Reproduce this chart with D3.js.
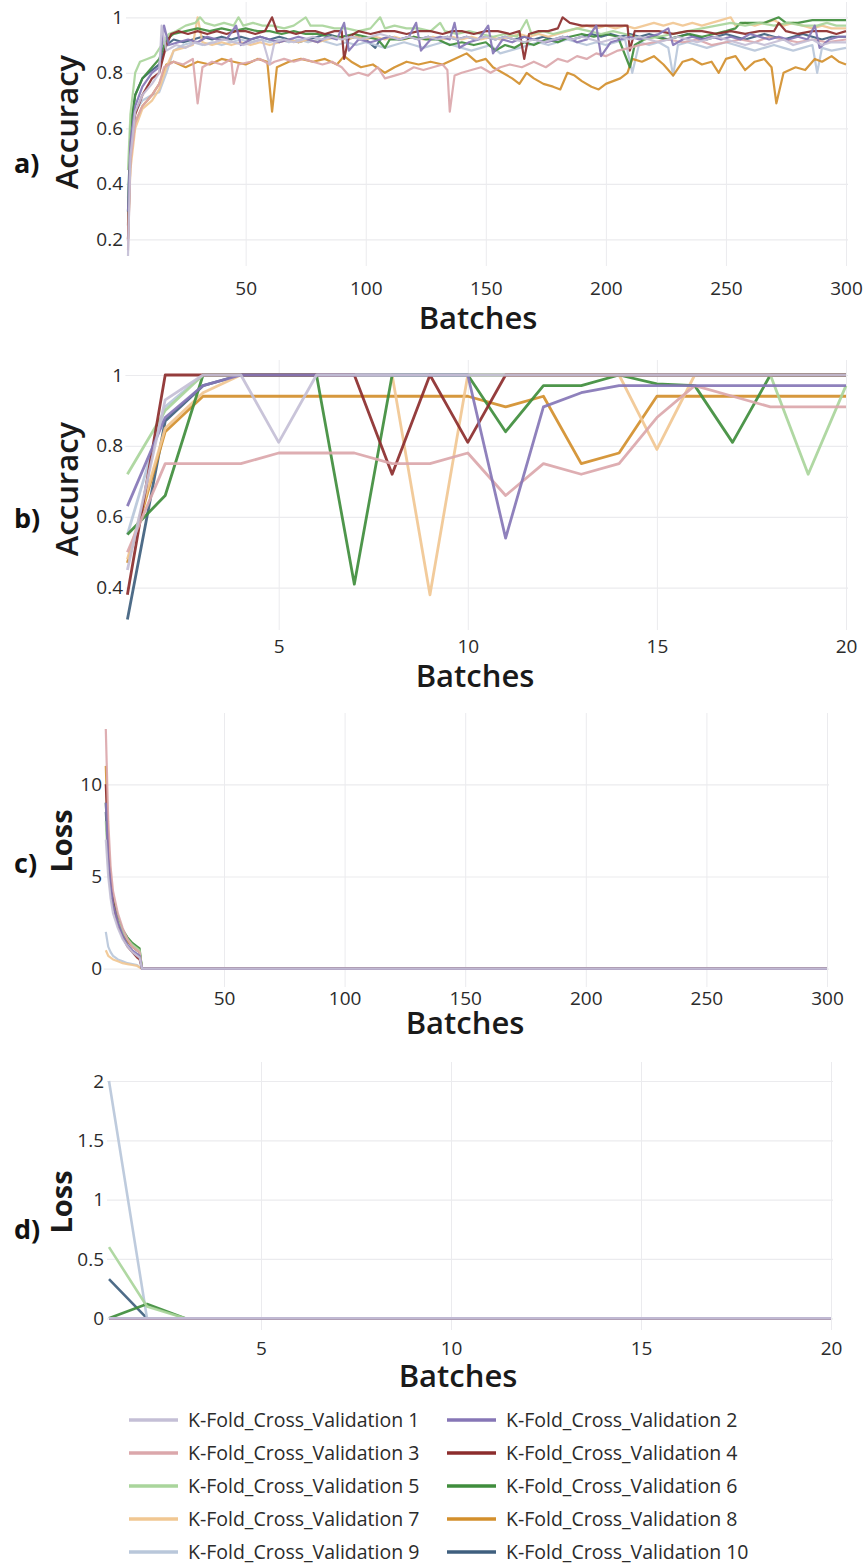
<!DOCTYPE html>
<html><head><meta charset="utf-8">
<script src="https://cdn.jsdelivr.net/npm/d3@7"></script>
<style>
body{margin:0;background:#fff;}
svg{display:block;font-family:"Open Sans",sans-serif;}
</style></head><body>
<svg id="chart" width="867" height="1564"></svg>
<script>
// ---------- categories / ticks ----------
const foldNames = ["K-Fold_Cross_Validation 1","K-Fold_Cross_Validation 2","K-Fold_Cross_Validation 3","K-Fold_Cross_Validation 4","K-Fold_Cross_Validation 5","K-Fold_Cross_Validation 6","K-Fold_Cross_Validation 7","K-Fold_Cross_Validation 8","K-Fold_Cross_Validation 9","K-Fold_Cross_Validation 10"];
const foldColors = ["#c4bfd6","#8676b6","#dba7ab","#8c2d2d","#a9d59b","#3f8d3c","#f1c792","#d38f2c","#b9c7da","#3f5f7e"];
const xTicksLong = [50,100,150,200,250,300];
const xTicksShort = [5,10,15,20];
const accTicksAll = [0.2,0.4,0.6,0.8,1];
const accTicksFirst = [0.4,0.6,0.8,1];
const lossTicksAll = [0,5,10];
const lossTicksFirst = [0,0.5,1,1.5,2];

// ---------- a) accuracy, 300 batches: [batch, accuracy] ----------
const accAll1 = [[1,0.14],[2,0.5],[4,0.66],[7,0.72],[11,0.76],[14,0.8],[15,0.97],[17,0.88],[21,0.9],[25,0.89],[29,0.91],[33,0.9],[37,0.91],[41,0.92],[45,0.91],[49,0.9],[53,0.91],[57,0.92],[60,0.83],[62,0.91],[66,0.92],[70,0.91],[74,0.92],[78,0.93],[82,0.92],[86,0.93],[90,0.92],[94,0.93],[98,0.92],[102,0.93],[106,0.94],[110,0.93],[114,0.92],[118,0.93],[122,0.92],[126,0.93],[130,0.92],[134,0.93],[138,0.92],[142,0.93],[146,0.92],[150,0.93],[154,0.92],[158,0.93],[162,0.92],[166,0.91],[170,0.92],[174,0.91],[178,0.92],[182,0.93],[186,0.92],[190,0.93],[194,0.92],[198,0.91],[202,0.92],[206,0.93],[210,0.92],[214,0.93],[218,0.92],[222,0.91],[226,0.92],[230,0.93],[234,0.92],[238,0.91],[242,0.92],[246,0.93],[250,0.92],[254,0.91],[258,0.9],[262,0.91],[266,0.9],[270,0.91],[274,0.92],[278,0.9],[282,0.91],[286,0.92],[290,0.9],[294,0.91],[300,0.91]];
const accAll2 = [[1,0.3],[2,0.55],[4,0.68],[7,0.75],[11,0.8],[14,0.82],[16,0.97],[18,0.9],[22,0.91],[26,0.92],[30,0.91],[34,0.93],[38,0.92],[42,0.92],[46,0.97],[48,0.9],[52,0.92],[56,0.93],[60,0.92],[64,0.91],[68,0.92],[72,0.93],[76,0.92],[80,0.91],[84,0.93],[88,0.92],[91,0.98],[93,0.88],[97,0.92],[102,0.91],[106,0.92],[110,0.93],[114,0.92],[118,0.93],[121,0.98],[123,0.88],[127,0.92],[131,0.93],[135,0.92],[137,0.98],[139,0.89],[143,0.91],[147,0.92],[151,0.97],[153,0.87],[157,0.92],[161,0.91],[166,0.93],[170,0.92],[175,0.91],[180,0.92],[184,0.93],[188,0.91],[192,0.92],[196,0.97],[198,0.86],[202,0.91],[206,0.92],[210,0.93],[214,0.92],[218,0.93],[222,0.94],[226,0.96],[228,0.9],[232,0.92],[236,0.93],[240,0.92],[244,0.93],[248,0.92],[252,0.93],[256,0.92],[260,0.94],[264,0.93],[268,0.92],[272,0.93],[276,0.92],[280,0.93],[284,0.92],[287,0.97],[289,0.89],[293,0.92],[297,0.93],[300,0.93]];
const accAll3 = [[1,0.16],[2,0.48],[4,0.62],[7,0.68],[11,0.72],[14,0.76],[16,0.82],[20,0.84],[24,0.83],[28,0.85],[30,0.69],[32,0.82],[36,0.84],[40,0.83],[44,0.85],[45,0.76],[47,0.83],[52,0.84],[56,0.85],[60,0.83],[62,0.84],[66,0.85],[70,0.84],[74,0.85],[78,0.84],[82,0.83],[86,0.84],[90,0.82],[93,0.79],[97,0.8],[101,0.79],[105,0.82],[108,0.78],[112,0.79],[116,0.8],[120,0.82],[124,0.81],[128,0.82],[132,0.83],[134,0.81],[135,0.66],[137,0.79],[140,0.8],[144,0.81],[148,0.82],[152,0.8],[156,0.82],[160,0.83],[165,0.82],[170,0.84],[175,0.82],[180,0.85],[184,0.84],[188,0.86],[192,0.85],[196,0.87],[200,0.86],[205,0.88],[210,0.89],[214,0.9],[220,0.91],[226,0.92],[232,0.91],[238,0.92],[244,0.9],[250,0.91],[256,0.92],[262,0.91],[268,0.93],[274,0.92],[280,0.91],[286,0.92],[292,0.91],[300,0.92]];
const accAll4 = [[1,0.2],[2,0.52],[4,0.65],[7,0.72],[11,0.78],[14,0.8],[17,0.9],[19,0.94],[22,0.95],[26,0.94],[30,0.95],[34,0.94],[38,0.95],[42,0.94],[46,0.95],[50,0.95],[54,0.94],[58,0.95],[61,1.0],[63,0.95],[67,0.95],[71,0.94],[75,0.95],[79,0.95],[83,0.94],[87,0.95],[90,0.95],[91,0.85],[93,0.93],[97,0.95],[102,0.94],[107,0.95],[112,0.95],[117,0.94],[122,0.95],[127,0.95],[132,0.94],[136,0.95],[140,0.95],[145,0.94],[150,0.95],[155,0.95],[160,0.94],[164,0.95],[166,0.85],[168,0.94],[172,0.95],[176,0.95],[180,0.96],[182,1.0],[185,0.98],[190,0.97],[195,0.97],[200,0.97],[205,0.97],[209,0.97],[210,0.88],[212,0.95],[216,0.95],[222,0.95],[228,0.94],[234,0.95],[240,0.95],[246,0.94],[252,0.95],[258,0.94],[264,0.95],[270,0.95],[272,0.98],[275,0.95],[280,0.94],[286,0.95],[292,0.95],[296,0.94],[300,0.95]];
const accAll5 = [[1,0.45],[2,0.65],[4,0.8],[6,0.84],[9,0.85],[12,0.86],[15,0.9],[18,0.94],[21,0.95],[25,0.97],[29,0.98],[31,1.0],[33,0.98],[37,0.97],[41,0.98],[45,0.97],[47,1.0],[49,0.97],[53,0.98],[57,0.97],[61,0.97],[66,0.96],[70,0.97],[75,1.0],[77,0.97],[82,0.97],[87,0.96],[92,0.96],[97,0.95],[102,0.96],[106,1.0],[108,0.96],[112,0.97],[117,0.96],[122,0.96],[127,0.95],[131,0.98],[133,0.95],[138,0.94],[143,0.95],[148,0.94],[153,0.93],[158,0.94],[163,0.93],[167,0.99],[169,0.94],[174,0.95],[178,0.94],[183,0.95],[188,0.96],[193,0.95],[198,0.94],[203,0.95],[208,0.94],[212,0.93],[216,0.92],[222,0.93],[228,0.94],[234,0.95],[240,0.96],[246,0.97],[252,0.98],[258,0.97],[264,0.98],[270,0.97],[276,0.98],[282,0.97],[288,0.97],[292,0.98],[296,0.97],[300,0.97]];
const accAll6 = [[1,0.3],[2,0.6],[4,0.72],[7,0.78],[11,0.82],[14,0.85],[17,0.92],[20,0.94],[25,0.95],[30,0.96],[35,0.95],[40,0.96],[45,0.95],[50,0.96],[55,0.95],[60,0.95],[65,0.94],[70,0.95],[75,0.94],[80,0.94],[85,0.93],[90,0.93],[95,0.94],[100,0.93],[105,0.92],[108,0.89],[110,0.92],[115,0.92],[120,0.93],[125,0.92],[130,0.92],[135,0.9],[140,0.91],[145,0.9],[150,0.91],[154,0.88],[158,0.9],[162,0.89],[166,0.91],[170,0.9],[175,0.92],[180,0.91],[185,0.93],[190,0.94],[195,0.93],[200,0.94],[205,0.93],[210,0.82],[212,0.9],[216,0.92],[220,0.93],[225,0.92],[230,0.93],[235,0.94],[240,0.93],[245,0.94],[250,0.95],[254,0.96],[256,0.98],[260,0.98],[266,0.98],[272,1.0],[275,0.98],[280,0.98],[286,0.99],[292,0.99],[296,0.99],[300,0.99]];
const accAll7 = [[1,0.2],[2,0.45],[4,0.6],[7,0.67],[11,0.7],[14,0.74],[17,0.82],[20,0.88],[24,0.89],[28,0.9],[30,1.0],[32,0.91],[36,0.9],[40,0.91],[44,0.9],[48,0.91],[52,0.9],[56,0.91],[60,0.9],[64,0.91],[68,0.92],[72,0.91],[76,0.92],[80,0.91],[84,0.92],[88,0.93],[92,0.92],[96,0.93],[100,0.92],[104,0.93],[108,0.92],[112,0.93],[116,0.92],[120,0.93],[124,0.92],[128,0.93],[132,0.92],[136,0.93],[140,0.92],[144,0.93],[148,0.92],[152,0.93],[156,0.92],[160,0.93],[164,0.94],[168,0.93],[172,0.94],[176,0.93],[180,0.94],[184,0.95],[188,0.96],[192,0.97],[196,0.96],[200,0.97],[204,0.96],[208,0.97],[212,0.96],[216,0.97],[220,0.98],[224,0.97],[228,0.98],[232,0.97],[236,0.98],[240,0.97],[244,0.98],[248,0.99],[252,1.0],[254,0.97],[258,0.98],[262,0.97],[266,0.98],[270,0.99],[274,0.97],[278,0.98],[282,0.97],[286,0.96],[290,0.97],[294,0.96],[300,0.96]];
const accAll8 = [[1,0.2],[2,0.48],[4,0.62],[7,0.68],[11,0.72],[14,0.76],[17,0.83],[20,0.84],[25,0.82],[30,0.84],[35,0.83],[40,0.85],[45,0.84],[50,0.83],[55,0.85],[59,0.84],[61,0.66],[63,0.82],[68,0.84],[73,0.85],[78,0.84],[83,0.85],[88,0.83],[91,0.86],[94,0.84],[98,0.82],[103,0.83],[108,0.8],[112,0.82],[117,0.84],[122,0.83],[127,0.84],[132,0.83],[137,0.85],[142,0.87],[146,0.84],[150,0.85],[153,0.82],[157,0.8],[161,0.78],[164,0.76],[167,0.8],[170,0.78],[174,0.76],[178,0.75],[181,0.74],[184,0.8],[187,0.79],[190,0.77],[194,0.75],[197,0.74],[200,0.76],[203,0.77],[206,0.78],[209,0.8],[211,0.85],[215,0.84],[220,0.86],[224,0.83],[228,0.79],[232,0.84],[236,0.85],[240,0.83],[244,0.84],[247,0.8],[250,0.85],[254,0.86],[258,0.81],[262,0.84],[266,0.85],[269,0.82],[271,0.69],[274,0.8],[279,0.82],[283,0.81],[287,0.85],[290,0.84],[294,0.86],[297,0.84],[300,0.83]];
const accAll9 = [[1,0.35],[2,0.55],[4,0.66],[7,0.7],[11,0.72],[14,0.73],[17,0.8],[20,0.88],[24,0.9],[28,0.91],[32,0.9],[36,0.91],[40,0.9],[44,0.91],[48,0.92],[52,0.91],[56,0.92],[60,0.91],[64,0.92],[68,0.91],[72,0.92],[76,0.91],[80,0.92],[84,0.91],[88,0.9],[92,0.91],[96,0.9],[100,0.91],[104,0.9],[108,0.89],[112,0.9],[116,0.91],[120,0.9],[124,0.89],[128,0.9],[132,0.91],[136,0.9],[140,0.89],[144,0.88],[148,0.89],[152,0.9],[156,0.87],[160,0.88],[164,0.89],[168,0.9],[172,0.91],[176,0.9],[180,0.91],[184,0.92],[188,0.91],[192,0.9],[196,0.91],[200,0.9],[204,0.91],[208,0.92],[211,0.8],[214,0.91],[218,0.9],[222,0.91],[226,0.89],[228,0.79],[230,0.9],[234,0.91],[238,0.9],[242,0.89],[246,0.9],[250,0.91],[254,0.9],[258,0.89],[262,0.88],[266,0.89],[270,0.9],[274,0.89],[278,0.88],[282,0.89],[286,0.9],[288,0.8],[290,0.89],[294,0.88],[300,0.89]];
const accAll10 = [[1,0.25],[2,0.6],[4,0.72],[7,0.78],[11,0.81],[14,0.83],[17,0.9],[20,0.92],[24,0.91],[28,0.92],[32,0.93],[36,0.92],[40,0.93],[44,0.92],[48,0.93],[52,0.92],[56,0.93],[60,0.92],[64,0.93],[68,0.92],[72,0.91],[76,0.92],[80,0.93],[84,0.94],[88,0.93],[92,0.92],[96,0.93],[100,0.92],[104,0.89],[106,0.92],[110,0.93],[114,0.92],[118,0.93],[122,0.92],[126,0.93],[130,0.92],[134,0.93],[138,0.92],[142,0.93],[146,0.92],[150,0.93],[154,0.92],[158,0.93],[162,0.92],[166,0.93],[170,0.92],[174,0.93],[178,0.92],[182,0.93],[186,0.92],[190,0.93],[194,0.94],[198,0.93],[202,0.94],[206,0.93],[210,0.94],[214,0.93],[218,0.94],[222,0.93],[226,0.92],[230,0.93],[234,0.94],[238,0.93],[242,0.92],[246,0.93],[250,0.94],[254,0.93],[258,0.92],[262,0.93],[266,0.94],[270,0.93],[274,0.92],[278,0.93],[282,0.94],[286,0.93],[290,0.92],[294,0.93],[300,0.93]];

// ---------- b) accuracy, first 20 batches ----------
const batchesFirst = [1,2,3,4,5,6,7,8,9,10,11,12,13,14,15,16,17,18,19,20];
const accFirst1 = [0.45,0.93,1,1,0.81,1,1,1,1,1,1,1,1,1,1,1,1,1,1,1];
const accFirst2 = [0.63,0.88,0.97,1,1,1,1,1,1,1,0.54,0.91,0.95,0.97,0.97,0.97,0.97,0.97,0.97,0.97];
const accFirst3 = [0.5,0.75,0.75,0.75,0.78,0.78,0.78,0.75,0.75,0.78,0.66,0.75,0.72,0.75,0.88,0.97,0.94,0.91,0.91,0.91];
const accFirst4 = [0.38,1,1,1,1,1,1,0.72,1,0.81,1,1,1,1,1,1,1,1,1,1];
const accFirst5 = [0.72,0.9,1,1,1,1,1,1,1,1,1,1,1,1,1,1,1,1,0.72,0.97];
const accFirst6 = [0.55,0.66,1,1,1,1,0.41,1,1,1,0.84,0.97,0.97,1,0.975,0.97,0.81,1,1,1];
const accFirst7 = [0.48,0.85,0.95,1,1,1,1,1,0.38,1,1,1,1,1,0.79,1,1,1,1,1];
const accFirst8 = [0.47,0.84,0.94,0.94,0.94,0.94,0.94,0.94,0.94,0.94,0.91,0.94,0.75,0.78,0.94,0.94,0.94,0.94,0.94,0.94];
const accFirst9 = [0.55,0.91,1,1,1,1,1,1,1,1,1,1,1,1,1,1,1,1,1,1];
const accFirst10 = [0.31,0.87,0.97,1,1,1,1,1,1,1,1,1,1,1,1,1,1,1,1,1];

// ---------- c) loss, 300 batches: [batch, loss] ----------
const lossAll1 = [[1,7],[2,5],[3,3.8],[4,3],[6,2.2],[8,1.6],[10,1.2],[12,0.9],[14,0.7],[15,0.6],[16,0],[300,0]];
const lossAll2 = [[1,9],[2,6],[3,4.5],[4,3.5],[6,2.5],[8,1.8],[10,1.3],[12,1.0],[14,0.8],[15,0.7],[16,0],[300,0]];
const lossAll3 = [[1,13],[2,8],[3,5.5],[4,4.2],[6,3],[8,2.2],[10,1.6],[12,1.2],[14,1.0],[15,0.9],[16,0],[300,0]];
const lossAll4 = [[1,10],[2,6.5],[3,4.8],[4,3.6],[6,2.4],[8,1.7],[10,1.2],[12,0.9],[14,0.6],[15,0.5],[16,0],[300,0]];
const lossAll5 = [[1,8],[2,5.5],[3,4.2],[4,3.4],[6,2.6],[8,2.0],[10,1.6],[12,1.3],[14,1.1],[15,1.0],[16,0],[300,0]];
const lossAll6 = [[1,9],[2,6],[3,4.6],[4,3.7],[6,2.8],[8,2.1],[10,1.7],[12,1.4],[14,1.2],[15,1.1],[16,0],[300,0]];
const lossAll7 = [[1,1.0],[2,0.7],[4,0.5],[6,0.4],[8,0.3],[10,0.25],[12,0.2],[14,0.15],[16,0],[300,0]];
const lossAll8 = [[1,11],[2,7],[3,5],[4,3.8],[6,2.7],[8,2.0],[10,1.5],[12,1.2],[14,1.0],[15,0.9],[16,0],[300,0]];
const lossAll9 = [[1,2.0],[2,1.2],[3,0.9],[4,0.7],[6,0.5],[8,0.4],[10,0.3],[12,0.25],[14,0.2],[16,0],[300,0]];
const lossAll10 = [[1,8.5],[2,6],[3,4.5],[4,3.5],[6,2.5],[8,1.9],[10,1.5],[12,1.2],[14,1.0],[15,0.9],[16,0],[300,0]];

// ---------- d) loss, first 20 batches ----------
const lossFirst1 = [0,0,0,0,0,0,0,0,0,0,0,0,0,0,0,0,0,0,0,0];
const lossFirst2 = [0,0,0,0,0,0,0,0,0,0,0,0,0,0,0,0,0,0,0,0];
const lossFirst3 = [0,0,0,0,0,0,0,0,0,0,0,0,0,0,0,0,0,0,0,0];
const lossFirst4 = [0,0,0,0,0,0,0,0,0,0,0,0,0,0,0,0,0,0,0,0];
const lossFirst5 = [0.6,0.1,0,0,0,0,0,0,0,0,0,0,0,0,0,0,0,0,0,0];
const lossFirst6 = [0,0.12,0,0,0,0,0,0,0,0,0,0,0,0,0,0,0,0,0,0];
const lossFirst7 = [0,0,0,0,0,0,0,0,0,0,0,0,0,0,0,0,0,0,0,0];
const lossFirst8 = [0,0,0,0,0,0,0,0,0,0,0,0,0,0,0,0,0,0,0,0];
const lossFirst9 = [2.0,0,0,0,0,0,0,0,0,0,0,0,0,0,0,0,0,0,0,0];
const lossFirst10 = [0.33,0,0,0,0,0,0,0,0,0,0,0,0,0,0,0,0,0,0,0];

// ---------- build ----------
const zip = vals => vals.map((v,i)=>[batchesFirst[i], v]);
const panels = [
  { letter:"a)", title:"Accuracy", titleWeight:600, titleSize:31,
    xDomain:[1,300], xRange:[128,846], yDomain:[0.2,1], yRange:[239.3,17.3],
    gridTop:2, gridBottom:266, xTicks:xTicksLong, yTicks:accTicksAll,
    tickLabelY:288, yLabelRight:123, xTitleX:478, xTitleBase:329,
    yTitleBase:78, yTitleMid:122, letterMid:164,
    series:[accAll1,accAll2,accAll3,accAll4,accAll5,accAll6,accAll7,accAll8,accAll9,accAll10], sw:2.2 },
  { letter:"b)", title:"Accuracy", titleWeight:600, titleSize:31,
    xDomain:[1,20], xRange:[127.4,846], yDomain:[0.4,1], yRange:[587.7,375],
    gridTop:360, gridBottom:630, xTicks:xTicksShort, yTicks:accTicksFirst,
    tickLabelY:646, yLabelRight:123, xTitleX:475, xTitleBase:687,
    yTitleBase:78, yTitleMid:489, letterMid:519,
    series:[accFirst1,accFirst2,accFirst3,accFirst4,accFirst5,accFirst6,accFirst7,accFirst8,accFirst9,accFirst10].map(zip), sw:2.8 },
  { letter:"c)", title:"Loss", titleWeight:700, titleSize:29,
    xDomain:[1,300], xRange:[105.8,827], yDomain:[0,10], yRange:[968.7,784.3],
    gridTop:713, gridBottom:987, xTicks:xTicksLong, yTicks:lossTicksAll,
    tickLabelY:998, yLabelRight:102, xTitleX:465, xTitleBase:1034,
    yTitleBase:72, yTitleMid:841, letterMid:864,
    series:[lossAll1,lossAll2,lossAll3,lossAll4,lossAll5,lossAll6,lossAll7,lossAll8,lossAll9,lossAll10], sw:2.2 },
  { letter:"d)", title:"Loss", titleWeight:700, titleSize:29,
    xDomain:[1,20], xRange:[109,831], yDomain:[0,2], yRange:[1318.3,1081],
    gridTop:1062, gridBottom:1330, xTicks:xTicksShort, yTicks:lossTicksFirst,
    tickLabelY:1348, yLabelRight:104, xTitleX:458, xTitleBase:1387,
    yTitleBase:72, yTitleMid:1202, letterMid:1230,
    series:[lossFirst1,lossFirst2,lossFirst3,lossFirst4,lossFirst5,lossFirst6,lossFirst7,lossFirst8,lossFirst9,lossFirst10].map(zip), sw:2.6 }
];

const svg = d3.select("#chart");
const gridColor = "#ebebee";
const textColor = "#2b2b2b";

panels.forEach(p => {
  const x = d3.scaleLinear().domain(p.xDomain).range(p.xRange);
  const y = d3.scaleLinear().domain(p.yDomain).range(p.yRange);
  const g = svg.append("g");
  const left = p.xRange[0] - 2, right = p.xRange[1] + 2;

  // vertical gridlines
  const gx = g.append("g").attr("transform",`translate(0,${p.gridBottom})`)
    .call(d3.axisBottom(x).tickValues(p.xTicks).tickSize(-(p.gridBottom-p.gridTop)).tickFormat(""));
  gx.select(".domain").remove();
  gx.selectAll("line").attr("stroke",gridColor).attr("stroke-width",1);

  // horizontal gridlines
  const gy = g.append("g").attr("transform",`translate(${left},0)`)
    .call(d3.axisLeft(y).tickValues(p.yTicks).tickSize(-(right-left)).tickFormat(""));
  gy.select(".domain").remove();
  gy.selectAll("line").attr("stroke",gridColor).attr("stroke-width",1.2);

  // x tick labels
  const lx = g.append("g").attr("transform",`translate(0,${p.tickLabelY})`)
    .call(d3.axisBottom(x).tickValues(p.xTicks).tickSize(0).tickPadding(0));
  lx.select(".domain").remove();
  lx.selectAll("text").attr("y",0).attr("dy","0.35em")
    .attr("font-size",19).attr("fill",textColor).attr("font-family","'Open Sans', sans-serif");

  // y tick labels
  const ly = g.append("g").attr("transform",`translate(${p.yLabelRight},0)`)
    .call(d3.axisLeft(y).tickValues(p.yTicks).tickSize(0).tickPadding(0).tickFormat(d=>String(d)));
  ly.select(".domain").remove();
  ly.selectAll("text").attr("font-size",19).attr("fill",textColor).attr("font-family","'Open Sans', sans-serif");

  // lines (fold 1 drawn last, on top)
  const line = d3.line().x(d=>x(d[0])).y(d=>y(d[1]));
  for (let i = p.series.length-1; i >= 0; i--) {
    g.append("path").datum(p.series[i])
      .attr("d", line).attr("fill","none")
      .attr("stroke", foldColors[i]).attr("stroke-width", p.sw)
      .attr("stroke-linejoin","round").attr("stroke-opacity",0.92);
  }

  // x title
  g.append("text").attr("x",p.xTitleX).attr("y",p.xTitleBase)
    .attr("text-anchor","middle").attr("font-size",31).attr("font-weight",600)
    .attr("fill","#1a1a1a").text("Batches");

  // y title (rotated)
  g.append("text").attr("transform",`translate(${p.yTitleBase},${p.yTitleMid}) rotate(-90)`)
    .attr("text-anchor","middle").attr("font-size",p.titleSize).attr("font-weight",p.titleWeight)
    .attr("fill","#1a1a1a").text(p.title);

  // panel letter
  g.append("text").attr("x",14).attr("y",p.letterMid).attr("dy","0.35em")
    .attr("font-size",27).attr("font-weight",700).attr("fill","#111").text(p.letter);
});

// legend
const legend = svg.append("g");
foldNames.forEach((name,i) => {
  const col = i % 2, row = Math.floor(i/2);
  const lx0 = col === 0 ? 129 : 447;
  const ly0 = 1420 + row*33;
  legend.append("line").attr("x1",lx0).attr("x2",lx0+49).attr("y1",ly0).attr("y2",ly0)
    .attr("stroke",foldColors[i]).attr("stroke-width",3.5);
  legend.append("text").attr("x",lx0+59).attr("y",ly0).attr("dy","0.35em")
    .attr("font-size",19.5).attr("fill",textColor).text(name);
});
</script>
</body></html>
